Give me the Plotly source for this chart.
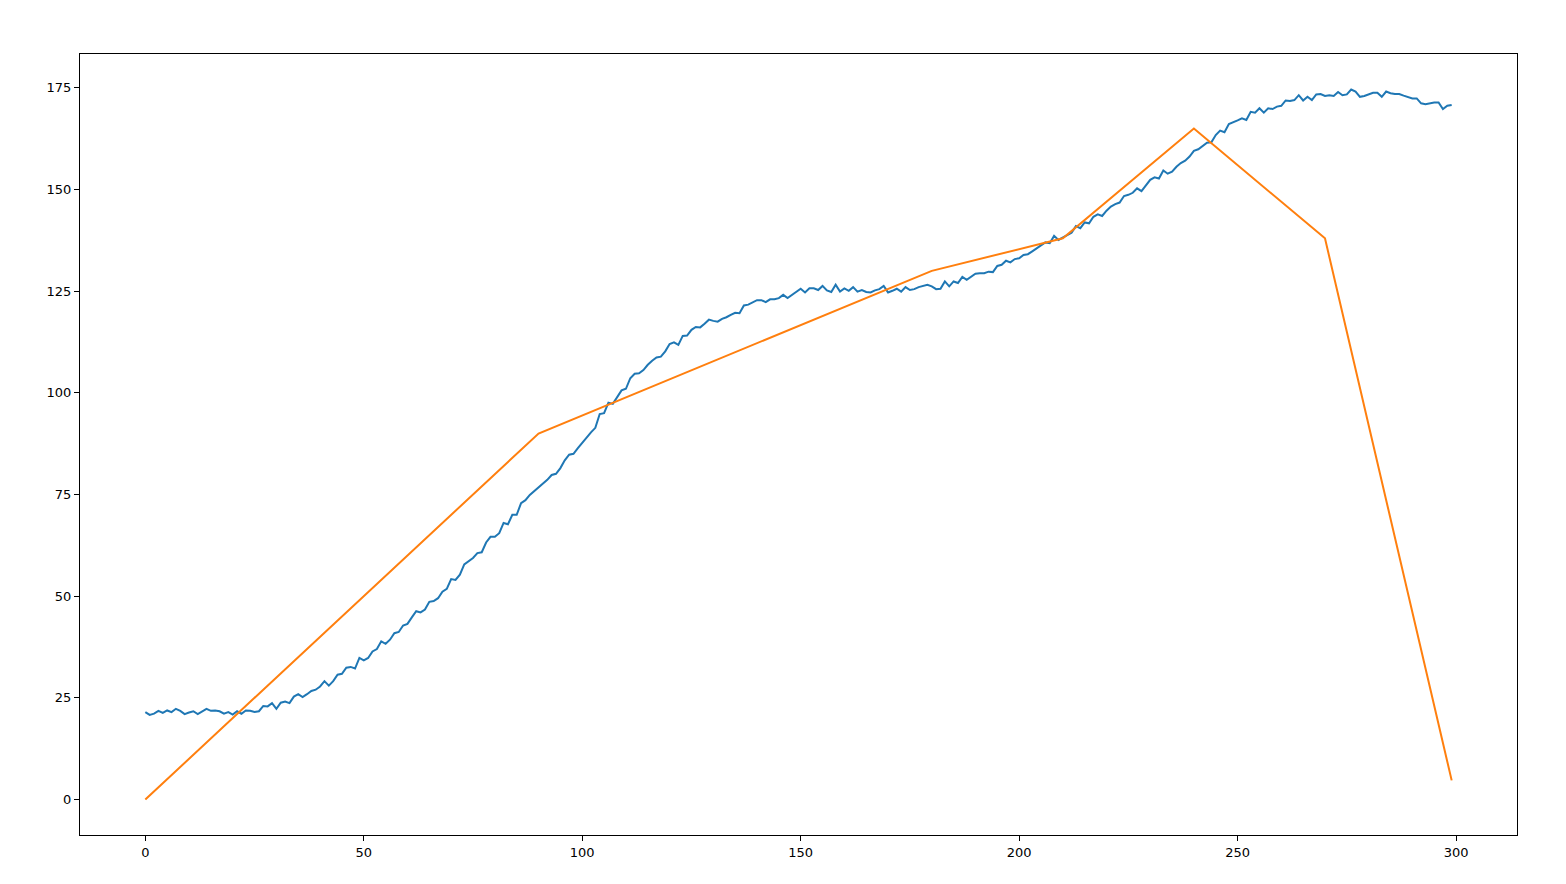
import plotly.graph_objects as go

x_blue = list(range(300))
y_blue = [
    21.5, 20.8, 21.1, 21.8, 21.3, 21.9, 21.5, 22.3, 21.8, 21.0,
    21.4, 21.7, 21.0, 21.7, 22.3, 21.8, 21.9, 21.7, 21.1, 21.5,
    20.9, 21.7, 21.1, 21.9, 21.8, 21.5, 21.7, 23.0, 22.9, 23.7,
    22.3, 23.8, 24.1, 23.7, 25.3, 25.9, 25.2, 25.9, 26.7, 27.0,
    27.8, 29.1, 28.0, 29.1, 30.7, 30.9, 32.4, 32.6, 32.2, 34.8,
    34.2, 34.8, 36.4, 37.0, 38.9, 38.3, 39.3, 40.9, 41.2, 42.8,
    43.2, 44.8, 46.3, 46.0, 46.7, 48.6, 48.8, 49.5, 51.1, 51.8,
    54.2, 54.0, 55.3, 57.8, 58.6, 59.4, 60.6, 60.8, 63.2, 64.6,
    64.6, 65.5, 68.0, 67.7, 70.0, 70.0, 72.9, 73.6, 74.9, 75.8,
    76.6, 77.6, 78.6, 79.8, 80.1, 81.5, 83.4, 84.8, 85.0, 86.4,
    87.8, 89.0, 90.3, 91.4, 94.8, 95.0, 97.6, 97.3, 99.1, 100.6,
    101.0, 103.6, 104.7, 104.8, 105.6, 106.9, 107.9, 108.7, 108.9, 110.2,
    112.0, 112.4, 111.8, 114.0, 114.1, 115.5, 116.2, 116.1, 117.0, 118.0,
    117.7, 117.5, 118.2, 118.6, 119.2, 119.7, 119.6, 121.5, 121.7, 122.3,
    122.8, 122.8, 122.3, 123.0, 123.0, 123.3, 124.1, 123.3, 124.1, 124.9,
    125.6, 124.7, 125.7, 125.7, 125.3, 126.3, 125.2, 124.8, 126.6, 124.9,
    125.7, 125.1, 126.0, 124.9, 125.3, 124.8, 124.7, 125.2, 125.5, 126.3,
    124.7, 125.1, 125.6, 124.9, 126.0, 125.3, 125.5, 126.0, 126.3, 126.6,
    126.2, 125.5, 125.6, 127.4, 126.2, 127.4, 127.0, 128.5, 127.8, 128.5,
    129.3, 129.4, 129.4, 129.8, 129.7, 131.2, 131.5, 132.5, 132.1, 132.9,
    133.1, 133.9, 134.1, 134.8, 135.6, 136.4, 137.0, 136.8, 138.6, 137.6,
    138.3, 138.8, 139.4, 141.0, 140.5, 141.9, 141.7, 143.3, 143.9, 143.5,
    144.8, 145.8, 146.4, 146.8, 148.4, 148.7, 149.2, 150.3, 149.6, 150.9,
    152.4, 153.0, 152.7, 154.7, 153.9, 154.4, 155.6, 156.5, 157.1, 158.1,
    159.5, 159.9, 160.7, 161.5, 161.6, 163.4, 164.5, 164.1, 166.1, 166.5,
    167.0, 167.5, 167.1, 169.1, 168.9, 170.0, 168.9, 170.0, 169.8, 170.4,
    170.6, 171.9, 171.8, 172.0, 173.2, 171.9, 172.8, 172.0, 173.4, 173.5,
    173.0, 173.2, 173.0, 174.0, 173.2, 173.4, 174.6, 174.1, 172.8, 173.0,
    173.4, 173.8, 173.8, 172.8, 174.1, 173.7, 173.5, 173.5, 173.1, 172.8,
    172.4, 172.4, 171.2, 171.0, 171.2, 171.4, 171.4, 169.8, 170.6, 170.8,
]

x_orange = [0, 90, 180, 210, 240, 270, 299]
y_orange = [0, 90, 130, 138, 165, 138, 4.7]

x_ticks = [0, 50, 100, 150, 200, 250, 300]
y_ticks = [0, 25, 50, 75, 100, 125, 150, 175]

fig = go.Figure()
fig.add_trace(go.Scatter(x=x_blue, y=y_blue, mode="lines",
                         line=dict(color="#1f77b4", width=2), showlegend=False))
fig.add_trace(go.Scatter(x=x_orange, y=y_orange, mode="lines",
                         line=dict(color="#ff7f0e", width=2), showlegend=False))

xmin, xmax = 0, 299
ymin = min(min(y_blue), min(y_orange))
ymax = max(max(y_blue), max(y_orange))
xpad = (xmax - xmin) * 0.05
ypad = (ymax - ymin) * 0.05

axis_common = dict(showgrid=False, zeroline=False, showline=True, linecolor="black",
                   linewidth=1, mirror=True, ticks="outside", ticklen=5, tickwidth=1,
                   tickcolor="black", tickfont=dict(family="DejaVu Sans", size=13, color="black"))

fig.update_layout(
    width=1566, height=884,
    margin=dict(l=72, r=57, t=46, b=57),
    paper_bgcolor="white", plot_bgcolor="white",
    xaxis=dict(range=[xmin - xpad, xmax + xpad], tickvals=x_ticks,
               ticktext=[str(v) for v in x_ticks], **axis_common),
    yaxis=dict(range=[ymin - ypad, ymax + ypad], tickvals=y_ticks,
               ticktext=[str(v) for v in y_ticks], **axis_common),
    font=dict(family="DejaVu Sans"),
)

fig.write_html("out.html")
